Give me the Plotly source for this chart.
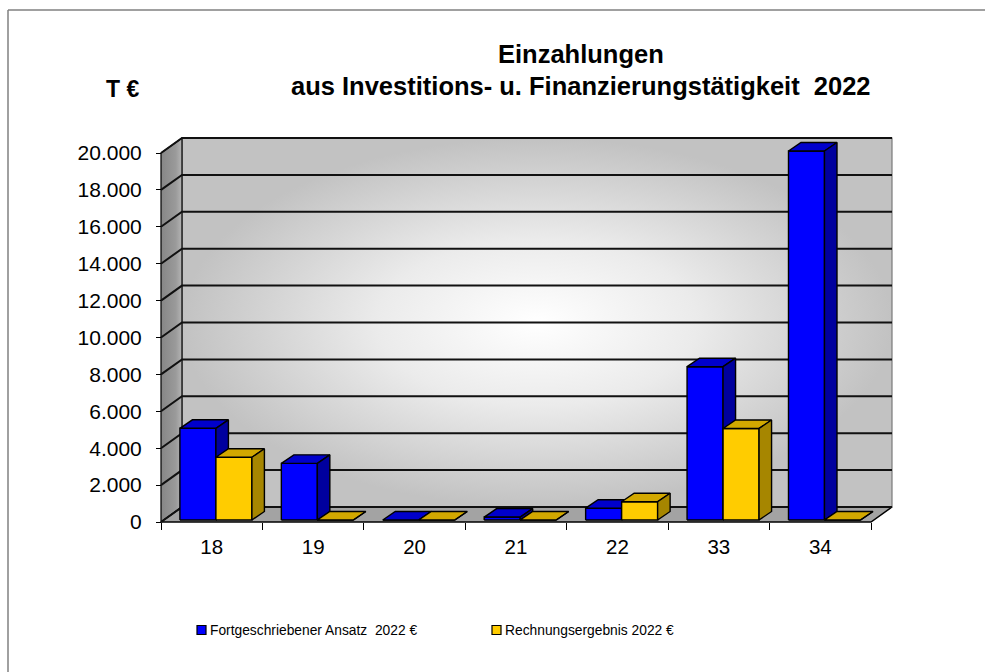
import plotly.graph_objects as go

# ---------------- data ----------------
CATEGORIES = ["18", "19", "20", "21", "22", "33", "34"]
ANSATZ_2022 = [4970, 3070, 0, 160, 640, 8310, 20000]
ERGEBNIS_2022 = [3400, 0, 0, 0, 990, 4960, 0]
Y_TICKS = [0, 2000, 4000, 6000, 8000, 10000, 12000, 14000, 16000, 18000, 20000]
SERIES_NAMES = ["Fortgeschriebener Ansatz  2022 €", "Rechnungsergebnis 2022 €"]
TITLE_LINES = ["Einzahlungen", "aus Investitions- u. Finanzierungstätigkeit  2022"]
UNIT_LABEL = "T €"

# ---------------- geometry / style ----------------
W, H = 985, 672
FRONT_LEFT_PX = 161.0
CAT_PX = 101.43
FLOOR_PX = 522.0
Y_SPAN_PX = 369.0
WALL_DEPTH_PX = (21.0, 15.0)
BAR_FRONT_SHIFT_PX = (2.7, 2.0)
BAR_DEPTH_PX = (12.5, 8.5)
BAR_W_PX = 36.0
BAR_LEFT_PX = -34.5
PAD = 5.0
FONT = "Liberation Sans, Arial, Helvetica, sans-serif"

n = len(CATEGORIES)
y_max = max(Y_TICKS)
ky = Y_SPAN_PX / y_max
dx = WALL_DEPTH_PX[0] / CAT_PX
dy = WALL_DEPTH_PX[1] / ky
x_lo = -0.5 - PAD / CAT_PX
x_hi = n - 0.5 + dx + PAD / CAT_PX
y_lo = -PAD / ky
y_hi = y_max + dy + PAD / ky
margin_l = FRONT_LEFT_PX - PAD
plot_w = (x_hi - x_lo) * CAT_PX
margin_r = W - margin_l - plot_w
margin_b = H - FLOOR_PX - PAD
plot_h = (y_hi - y_lo) * ky
margin_t = H - margin_b - plot_h


def pxx(px):
    return (px - margin_l) / plot_w


def pxy(py):
    return (H - margin_b - py) / plot_h


fig = go.Figure()


def poly(xs, ys, fill=None, line_color="black", line_width=1.0, gradient=None):
    kw = dict(x=xs, y=ys, mode="lines", fill="toself",
              line=dict(color=line_color, width=line_width),
              hoverinfo="skip", showlegend=False)
    if gradient is not None:
        kw["fillgradient"] = gradient
        kw["fillcolor"] = fill or "#c0c0c0"
    else:
        kw["fillcolor"] = fill
    fig.add_trace(go.Scatter(**kw))


L, R = -0.5, n - 0.5
# back wall
poly([L + dx, R + dx, R + dx, L + dx, L + dx],
     [dy, dy, y_max + dy, y_max + dy, dy],
     line_color="#7a7a7a", line_width=1.2,
     gradient=dict(type="radial",
                   colorscale=[[0, "#ffffff"], [0.45, "#ebebeb"], [1, "#c2c2c2"]]))
# side wall
poly([L, L + dx, L + dx, L, L],
     [0, dy, y_max + dy, y_max, 0],
     line_color="black", line_width=1.2,
     gradient=dict(type="horizontal",
                   colorscale=[[0, "#868686"], [0.7, "#9a9a9a"], [1, "#b4b4b4"]]))
# floor
poly([L, R, R + dx, L + dx, L],
     [0, 0, dy, dy, 0], fill="#a3a3a3", line_color="black", line_width=1.5)

# gridlines on side and back wall
gx, gy = [], []
for v in Y_TICKS:
    gx += [L, L + dx, R + dx, None]
    gy += [v, v + dy, v + dy, None]
fig.add_trace(go.Scatter(x=gx, y=gy, mode="lines",
                         line=dict(color="#111111", width=2),
                         hoverinfo="skip", showlegend=False))

# 3D bars
sx = BAR_FRONT_SHIFT_PX[0] / CAT_PX
sy = BAR_FRONT_SHIFT_PX[1] / ky
bx = BAR_DEPTH_PX[0] / CAT_PX
by = BAR_DEPTH_PX[1] / ky
bw = BAR_W_PX / CAT_PX
b0 = BAR_LEFT_PX / CAT_PX

series = [
    (ANSATZ_2022, ("#0000ff", "#0000cc", "#00009e"), 0),
    (ERGEBNIS_2022, ("#ffcc00", "#d2a800", "#a68600"), 1),
]
for values, (c_front, c_top, c_side), k in series:
    fx, fy, tx, ty, qx, qy = [], [], [], [], [], []
    for i, v in enumerate(values):
        l = i + b0 + k * bw + sx
        r = l + bw
        base = sy
        top = sy + v
        fx += [l, r, r, l, l, None]
        fy += [base, base, top, top, base, None]
        tx += [l, r, r + bx, l + bx, l, None]
        ty += [top, top, top + by, top + by, top, None]
        qx += [r, r + bx, r + bx, r, r, None]
        qy += [base, base + by, top + by, top, base, None]
    for xs, ys, col in ((fx, fy, c_front), (tx, ty, c_top), (qx, qy, c_side)):
        fig.add_trace(go.Scatter(x=xs, y=ys, mode="lines", fill="toself",
                                 fillcolor=col, line=dict(color="black", width=1.4),
                                 hoverinfo="skip", showlegend=False))

# titles & labels
ann = []
ann.append(dict(text="<b>%s</b>" % TITLE_LINES[0], x=pxx(581), y=pxy(54)))
ann.append(dict(text="<b>%s</b>" % TITLE_LINES[1], x=pxx(581), y=pxy(86)))
ann.append(dict(text="<b>%s</b>" % UNIT_LABEL, x=pxx(122.5), y=pxy(88.5),
                font=dict(family=FONT, size=23, color="black")))
for a in ann:
    a.update(xref="paper", yref="paper", showarrow=False,
             xanchor="center", yanchor="middle")
    a.setdefault("font", dict(family=FONT, size=25.5, color="black"))

legend_colors = ["#0000ff", "#ffcc00"]
legend_sq_x = [197, 492]
shapes = []
for name, col, sqx in zip(SERIES_NAMES, legend_colors, legend_sq_x):
    shapes.append(dict(type="rect", xref="paper", yref="paper",
                       x0=pxx(sqx), x1=pxx(sqx + 9), y0=pxy(634.5), y1=pxy(625.5),
                       fillcolor=col, line=dict(color="black", width=1.2)))
    ann.append(dict(text=name, x=pxx(sqx + 11), y=pxy(630.5), xref="paper", yref="paper",
                    showarrow=False, xanchor="left", yanchor="middle",
                    font=dict(family=FONT, size=13.8, color="black")))

# page border
shapes.append(dict(type="line", xref="paper", yref="paper",
                   x0=pxx(8), x1=pxx(W + 5), y0=pxy(10), y1=pxy(10),
                   line=dict(color="#808080", width=1.5)))
shapes.append(dict(type="line", xref="paper", yref="paper",
                   x0=pxx(8), x1=pxx(8), y0=pxy(10), y1=pxy(H + 5),
                   line=dict(color="#808080", width=1.5)))

fig.update_layout(
    width=W, height=H, autosize=False,
    margin=dict(l=margin_l, r=margin_r, t=margin_t, b=margin_b, pad=0),
    paper_bgcolor="white", plot_bgcolor="white",
    separators=",.",
    showlegend=False,
    font=dict(family=FONT, size=20, color="black"),
    annotations=ann, shapes=shapes,
    xaxis=dict(range=[x_lo, x_hi], anchor="free", position=PAD / plot_h,
               showgrid=False, zeroline=False, showline=False,
               tickmode="array", tickvals=list(range(n)), ticktext=CATEGORIES,
               ticks="", tickfont=dict(family=FONT, size=20.5, color="black"),
               ticklabelstandoff=10,
               minor=dict(tickmode="array",
                          tickvals=[i - 0.5 for i in range(n + 1)],
                          ticks="outside", ticklen=7, tickcolor="black", tickwidth=1,
                          showgrid=False),
               fixedrange=True),
    yaxis=dict(range=[y_lo, y_hi], anchor="free", position=PAD / plot_w,
               showgrid=False, zeroline=False, showline=False,
               tickmode="array", tickvals=Y_TICKS, tickformat=",",
               ticks="outside", ticklen=5, tickcolor="black", tickwidth=1,
               tickfont=dict(family=FONT, size=21, color="black"),
               ticklabelstandoff=10,
               fixedrange=True),
)

fig.write_html("out.html", config={"displayModeBar": False},
               post_script="document.body.style.margin='0';")
